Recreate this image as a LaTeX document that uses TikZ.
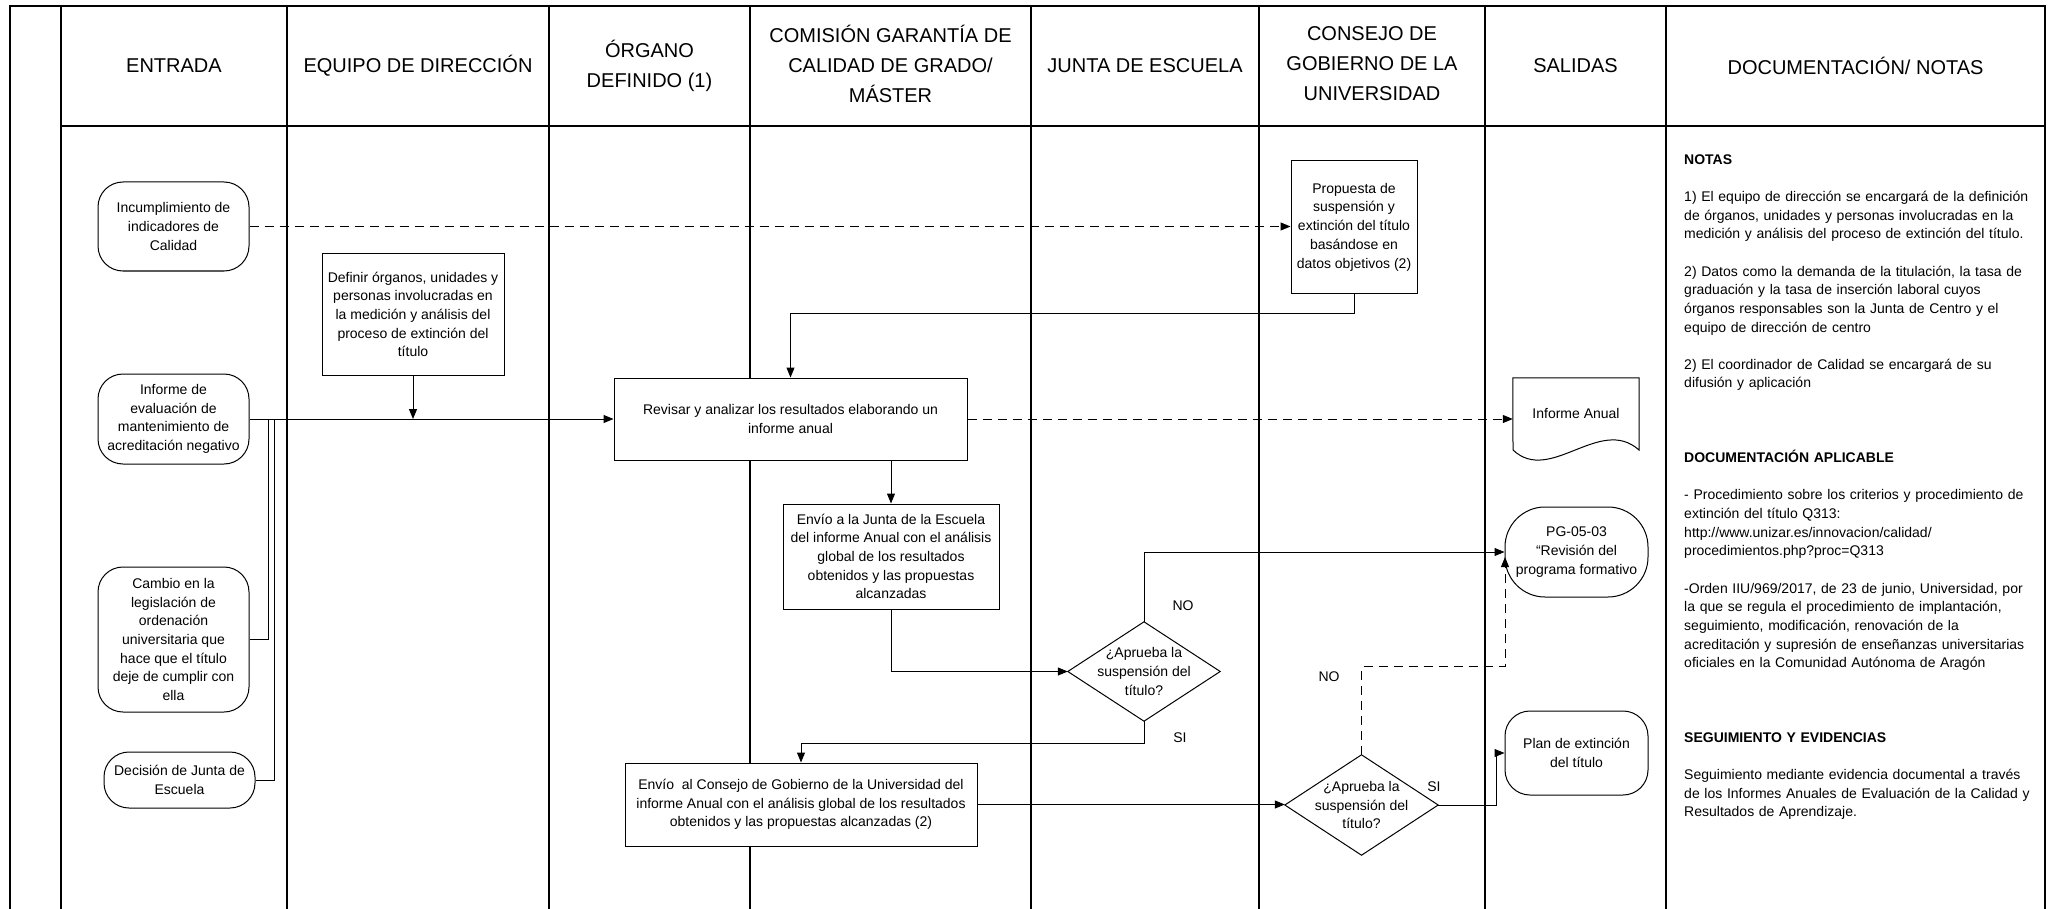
\documentclass[tikz,border=0pt]{standalone}
\usepackage{fontspec}
\setmainfont{Liberation Sans}
\usetikzlibrary{arrows.meta}
\newcommand\mybody{\fontsize{14pt}{18.7pt}\selectfont}
\newcommand\myhdr{\fontsize{20pt}{30pt}\selectfont}
\newcommand\mynotes{\fontsize{14pt}{18.65pt}\selectfont}
\begin{document}
\begin{tikzpicture}[x=1pt,y=-1pt,
  laneline/.style={line width=1.3pt, black},
  hdr/.style={font=\myhdr, align=center, inner sep=0pt},
  txt/.style={font=\mybody, align=center, inner sep=0pt},
  pbox/.style={txt, draw, fill=white, line width=1pt, rectangle},
  term/.style={pbox, rounded corners=25pt},
  dia/.style={txt, rectangle},
  shapeline/.style={line width=1pt},
  arr/.style={line width=1pt, -{Triangle[length=10pt,width=8pt]}},
  darr/.style={arr, dash pattern=on 9pt off 6pt},
  plain/.style={line width=1pt},
  lbl/.style={font=\mybody, inner sep=0pt},
  notes/.style={font=\mynotes, text width=344pt, align=left, inner sep=0pt}
]
\useasboundingbox (0,0) rectangle (2060,909);
\fill[white] (0,0) rectangle (2060,909);

% lanes
\draw[laneline] (10,909) -- (10,6) -- (2045,6) -- (2045,909);
\foreach \x in {61,287,549,750,1031,1259,1485,1666} \draw[laneline] (\x,6) -- (\x,909);
\draw[laneline] (61,126) -- (2045,126);

% headers
\node[hdr] (hEnt) at (174,66) {ENTRADA};
\node[hdr] (hEq) at (418,66) {EQUIPO DE DIRECCIÓN};
\node[hdr] (hOrg) at (649.5,66) {ÓRGANO\\DEFINIDO (1)};
\node[hdr] (hCom) at (890.5,64) {COMISIÓN GARANTÍA DE\\CALIDAD DE GRADO/\\MÁSTER};
\node[hdr] (hJun) at (1145,66) {JUNTA DE ESCUELA};
\node[hdr] (hCon) at (1372,64) {CONSEJO DE\\GOBIERNO DE LA\\UNIVERSIDAD};
\node[hdr] (hSal) at (1575.5,66) {SALIDAS};
\node[hdr] (hDoc) at (1855.5,66) {DOCUMENTACIÓN/ NOTAS};

% entradas
\node[term, minimum width=151pt, minimum height=89pt] (inc) at (173.5,226.5) {Incumplimiento de\\indicadores de\\Calidad};
\node[term, minimum width=151pt, minimum height=90pt] (inf) at (173.5,419) {Informe de\\evaluación de\\mantenimiento de\\acreditación negativo};
\node[term, minimum width=151pt, minimum height=145pt] (cam) at (173.5,639.5) {Cambio en la\\legislación de\\ordenación\\universitaria que\\hace que el título\\deje de cumplir con\\ella};
\node[term, minimum width=151pt, minimum height=56pt] (dec) at (179.5,780) {Decisión de Junta de\\Escuela};

% process boxes
\node[pbox, minimum width=182pt, minimum height=121pt] (def) at (413,314.5) {Definir órganos, unidades y\\personas involucradas en\\la medición y análisis del\\proceso de extinción del\\título};
\node[pbox, minimum width=126pt, minimum height=132pt] (prop) at (1354,227) {Propuesta de\\suspensión y\\extinción del título\\basándose en\\datos objetivos (2)};
\node[pbox, minimum width=353pt, minimum height=82pt] (rev) at (790.5,419) {Revisar y analizar los resultados elaborando un\\informe anual};
\node[pbox, minimum width=216pt, minimum height=105pt] (env1) at (891,556.5) {Envío a la Junta de la Escuela\\del informe Anual con el análisis\\global de los resultados\\obtenidos y las propuestas\\alcanzadas};
\node[pbox, minimum width=352pt, minimum height=83pt] (env2) at (801,804.5) {Envío\ \ al Consejo de Gobierno de la Universidad del\\informe Anual con el análisis global de los resultados\\obtenidos y las propuestas alcanzadas (2)};

% decisions
\node[dia, minimum width=152pt, minimum height=99pt] (d1) at (1144,671.5) {¿Aprueba la\\suspensión del\\título?};
\draw[shapeline] (d1.north) -- (d1.east) -- (d1.south) -- (d1.west) -- cycle;
\node[dia, minimum width=153pt, minimum height=100pt] (d2) at (1361.5,805) {¿Aprueba la\\suspensión del\\título?};
\draw[shapeline] (d2.north) -- (d2.east) -- (d2.south) -- (d2.west) -- cycle;

% salidas
\node[txt, minimum width=126pt, minimum height=82pt] (ianual) at (1576,419) {\raisebox{11pt}{Informe Anual}};
\draw[shapeline] (1513,450) -- (ianual.north west) -- (ianual.north east) -- (1639,450)
  .. controls (1600,415) and (1550,485) .. (1513,450);
\node[pbox, rounded corners=40pt, minimum width=143pt, minimum height=90pt] (pg) at (1576.5,552) {PG-05-03\\“Revisión del\\programa formativo};
\node[term, minimum width=143pt, minimum height=84pt] (plan) at (1576.5,753) {Plan de extinción\\del título};

% notes
\node[notes, anchor=north west] (notas) at (1684,150) {\rule{0pt}{14pt}\textbf{NOTAS}\\[18.65pt]
\makebox[344pt][s]{1) El equipo de dirección se encargará de la definición}\\
\makebox[344pt][s]{de órganos, unidades y personas involucradas en la}\\
medición y análisis del proceso de extinción del título.\\[18.65pt]
2) Datos como la demanda de la titulación, la tasa de\\
graduación y la tasa de inserción laboral cuyos\\
órganos responsables son la Junta de Centro y el\\
equipo de dirección de centro\\[18.65pt]
2) El coordinador de Calidad se encargará de su\\
difusión y aplicación\\[55.95pt]
\textbf{DOCUMENTACIÓN APLICABLE}\\[18.65pt]
- Procedimiento sobre los criterios y procedimiento de\\
extinción del título Q313:\\
http://www.unizar.es/innovacion/calidad/\\
procedimientos.php?proc=Q313\\[18.65pt]
\makebox[344pt][s]{-Orden IIU/969/2017, de 23 de junio, Universidad, por}\\
\makebox[344pt][s]{la que se regula el procedimiento de implantación,}\\
\makebox[344pt][s]{seguimiento, modificación, renovación de la}\\
\makebox[344pt][s]{acreditación y supresión de enseñanzas universitarias}\\
oficiales en la Comunidad Autónoma de Aragón\\[55.95pt]
\textbf{SEGUIMIENTO Y EVIDENCIAS}\\[18.65pt]
\makebox[344pt][s]{Seguimiento mediante evidencia documental a través}\\
\makebox[344pt][s]{de los Informes Anuales de Evaluación de la Calidad y}\\
Resultados de Aprendizaje.};

% labels
\node[lbl] (no1) at (1183,606) {NO};
\node[lbl] (si1) at (1180,738) {SI};
\node[lbl] (no2) at (1329,677) {NO};
\node[lbl] (si2) at (1434,787) {SI};

% junction coordinates
\coordinate (j1) at (268,419);
\coordinate (j2) at (274,419);
\coordinate (pgin) at (1505,557);

% connectors
\draw[darr] (inc.east) -- (inc.east -| prop.west);
\draw[arr] (prop.south) -- ++(0,20) -| (rev.north);
\draw[arr] (def.south) -- (def.south |- inf.east);
\draw[arr] (inf.east) -- (rev.west);
\draw[plain] (cam.east) -| (j1);
\draw[plain] (dec.east) -| (j2);
\draw[darr] (rev.east) -- (ianual.west);
\draw[arr] (rev.south -| env1.north) -- (env1.north);
\draw[arr] (env1.south) |- (d1.west);
\draw[arr] (d1.north) |- (pg.west);
\draw[arr] (d1.south) -- ++(0,22) -| (env2.north);
\draw[arr] (env2.east) -- (env2.east -| d2.west);
\draw[darr] (d2.north) -- ++(0,-88) -| (pgin);
\draw[arr] (d2.east) -- ++(58,0) |- (plan.west);
\end{tikzpicture}
\end{document}
